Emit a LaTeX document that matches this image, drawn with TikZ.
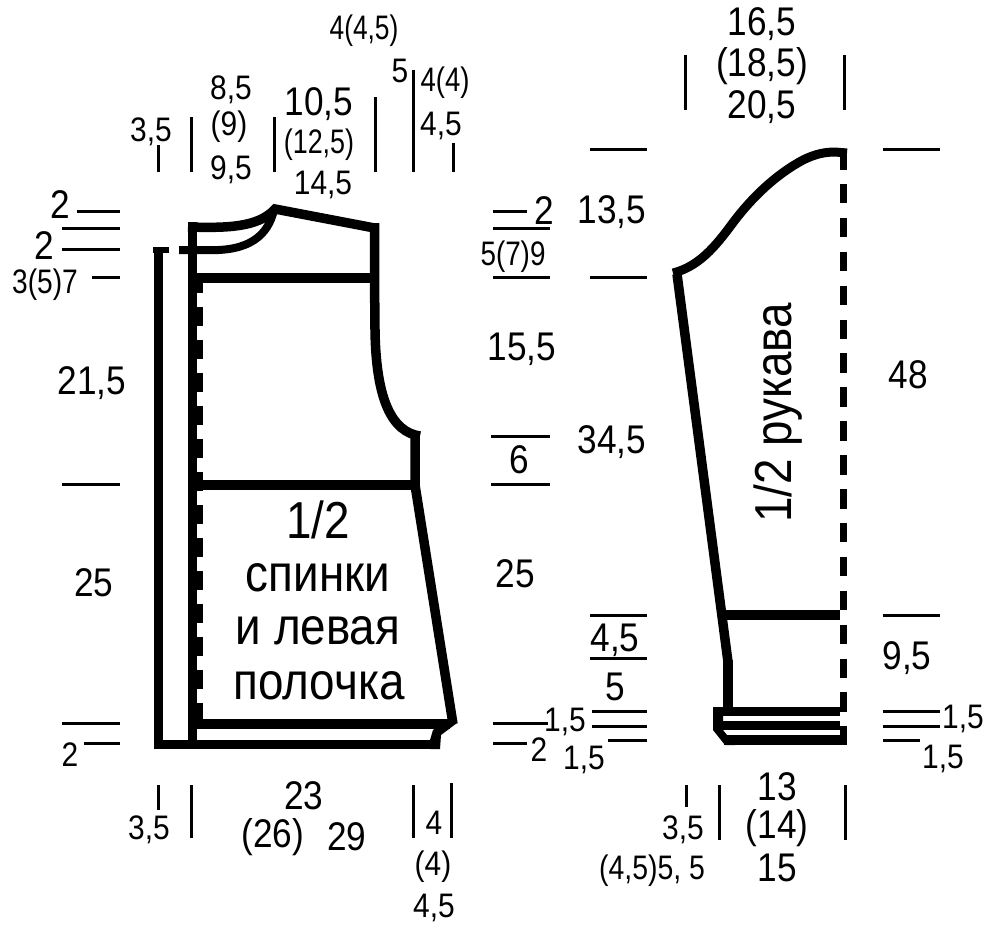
\documentclass[tikz,border=0pt]{standalone}
\usepackage{fontspec}
\setmainfont[FakeStretch=0.88]{Liberation Sans}
\newcommand{\narr}[2]{\scalebox{#1}[1]{#2}}
\tikzset{
 heavy/.style={line width=9.5pt,line join=miter,line cap=butt},
 med/.style={line width=8pt,line cap=butt},
 tick/.style={line width=3pt,line cap=butt},
 lab/.style={inner sep=0pt,font=\fontsize{40}{40}\selectfont},
 slab/.style={inner sep=0pt,font=\fontsize{34}{34}\selectfont},
 big/.style={inner sep=0pt,font=\fontsize{52}{52}\selectfont},
}
\begin{document}
\begin{tikzpicture}[x=1pt,y=-1pt]
\useasboundingbox (0,0) rectangle (1000,943);
% ---------- back piece
\draw[heavy] (188,227) .. controls (225,228) and (258,228) .. (275,209) -- (374.5,228);
\draw[heavy] (374.5,223) -- (374.5,277) -- (375,330) .. controls (376,400) and (392,432) .. (420,436);
\draw[med] (179,250) -- (205,250) .. controls (250,252) and (268,235) .. (274,210);
\draw[heavy] (415,432) -- (415,485) -- (453,724);
\draw[heavy] (192.5,222) -- (192.5,749);
\draw[heavy] (158.5,253) -- (158.5,749);
\draw[line width=6.5pt] (153,250) -- (169,250);
\draw[heavy] (192,278) -- (379,278);
\draw[heavy] (197,485) -- (420,485);
\draw[heavy] (192,724) -- (450,724);
\draw[heavy] (158,744.5) -- (440,744.5);
\fill (457,723) -- (441,735) -- (440,749) -- (430,749) -- (430,740) -- (433,730) -- (450,719) -- cycle;
\draw[line width=6.5pt,dash pattern=on 19pt off 14pt] (200,274) -- (200,722);
% ---------- sleeve
\draw[line width=9pt] (673,273) .. controls (702,266) and (720,240) .. (735,220) .. controls (752,198) and (775,175) .. (803,160) .. controls (815,154) and (825,152) .. (835,152) -- (847,153);
\draw[heavy] (677,274) -- (728,662);
\draw[heavy] (728,660) -- (728,708);
\draw[heavy] (725,615) -- (840,615);
\draw[heavy] (713,711.5) -- (840,711.5);
\draw[heavy] (720,725.5) -- (840,725.5);
\draw[heavy] (724,740) -- (847,740);
\fill (717,707) -- (713,709) -- (713,730) -- (725,745) -- (735,745) -- (723,730) -- (723,707) -- cycle;
\draw[line width=7pt,dash pattern=on 19.5pt off 14.4pt] (843.5,150) -- (843.5,745);
% ---------- vertical ticks
\foreach \x/\a/\b in {158/145/172,191/117/172,274/117/172,375/97/172,413/70/172,453/143/172,685/55/110,844/55/110,158/785/810,191/785/838,413/785/838,451/783/838,686/785/807,719/785/840,845/785/840}
  \draw[tick] (\x,\a) -- (\x,\b);
% ---------- horizontal ticks
\foreach \a/\b/\y in {77/120/211,62/120/228,62/120/249,92/120/277,62/120/484,62/120/723,84/120/743,493/527/211,493/550/228,493/550/277,491/550/436,491/550/484,493/548/723,493/527/743,590/647/149,883/940/149,590/647/277,590/647/615,883/940/615,590/647/658,592/647/711,592/647/726,608/647/740,883/940/711,883/940/726,883/920/740}
  \draw[tick] (\a,\y) -- (\b,\y);
% ---------- labels
\node[slab] (t1) at (364,31) {\narr{0.88}{4(4,5)}};
\node[slab] (t2) at (400,71) {5};
\node[slab] (t3) at (445,83) {\narr{0.92}{4(4)}};
\node[slab] (t4) at (441,126) {4,5};
\node[slab] (t5) at (231,90) {8,5};
\node[slab] (t6) at (229,127) {(9)};
\node[slab] (t7) at (231,170) {9,5};
\node[lab] (t8) at (319,104) {10,5};
\node[slab] (t9) at (319,145) {\narr{0.9}{(12,5)}};
\node[slab] (t10) at (323,185) {14,5};
\node[slab] (t11) at (151,132) {3,5};
\node[lab] (l1) at (60,205) {2};
\node[lab] (l2) at (44,246) {2};
\node[slab] (l3) at (45,285) {\narr{0.94}{3(5)7}};
\node[lab] (l4) at (92,383) {21,5};
\node[lab] (l5) at (94,583) {25};
\node[slab] (l6) at (70,755) {2};
\node[lab] (r1) at (544,211) {2};
\node[slab] (r2) at (513,257) {\narr{0.93}{5(7)9}};
\node[lab] (r3) at (522,349) {15,5};
\node[lab] (r4) at (519,460) {6};
\node[lab] (r5) at (515,574) {25};
\node[slab] (r6) at (565,722) {1,5};
\node[slab] (r7) at (539,750) {2};
\node[lab] (b1) at (304,796) {23};
\node[lab] (b2) at (273,837) {(26)};
\node[lab] (b3) at (347,837) {29};
\node[slab] (b4) at (149,830) {3,5};
\node[slab] (b5) at (434,823) {4};
\node[slab] (b6) at (433,867) {(4)};
\node[slab] (b7) at (434,908) {4,5};
\node[big] (c1) at (318,520) {1/2};
\node[big] (c2) at (318,578) {спинки};
\node[big] (c3) at (318,631) {и левая};
\node[big] (c4) at (319,686) {полочка};
\node[lab] (s1) at (762,24) {16,5};
\node[lab] (s2) at (762,66) {(18,5)};
\node[lab] (s3) at (762,107) {20,5};
\node[lab] (s4) at (612,212) {13,5};
\node[lab] (s5) at (612,442) {34,5};
\node[big,rotate=90] (s6) at (778,413) {1/2 рукава};
\node[lab] (s7) at (908,375) {48};
\node[lab] (s8) at (615,640) {4,5};
\node[lab] (s9) at (615,687) {5};
\node[slab] (s11) at (584,760) {1,5};
\node[lab] (s12) at (907,658) {9,5};
\node[slab] (s13) at (963,719) {1,5};
\node[slab] (s14) at (943,759) {1,5};
\node[lab] (s15) at (777,787) {13};
\node[lab] (s16) at (777,828) {(14)};
\node[lab] (s17) at (777,868) {15};
\node[slab] (s18) at (683,830) {3,5};
\node[slab] (s19) at (652,871) {\narr{0.95}{(4,5)5, 5}};
\end{tikzpicture}
\end{document}
